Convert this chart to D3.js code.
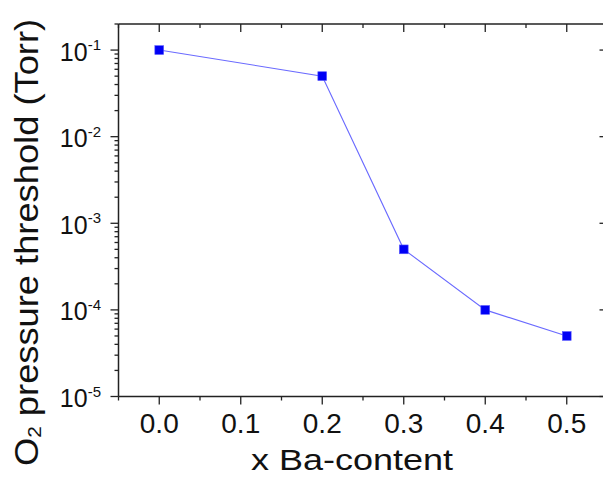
<!DOCTYPE html>
<html>
<head>
<meta charset="utf-8">
<script src="https://cdn.jsdelivr.net/npm/d3@7"></script>
<style>
  body { margin: 0; background: #fff; }
  text { font-family: "Liberation Sans", Arial, sans-serif; fill: #111; }
</style>
</head>
<body>
<svg id="chart" width="603" height="477"></svg>
<script>
/* global d3 */

let baContent = [0.0, 0.2, 0.3, 0.4, 0.5]
let o2Threshold = [1e-1, 5e-2, 5e-4, 1e-4, 5e-5]
let xTicks = [0.0, 0.1, 0.2, 0.3, 0.4, 0.5]
let yExponents = [-1, -2, -3, -4, -5]

function makeChart() {
  let svg = d3.select('#chart');

  let x = d3.scaleLinear().domain([-0.05, 0.55]).range([118.5, 607.5]);
  let y = d3.scaleLog().domain([1e-5, 0.2]).range([396.5, 24]);

  let ink = '#222';

  // frame
  svg.append('line').attr('x1', x(-0.05)).attr('x2', x(0.55)).attr('y1', y(1e-5)).attr('y2', y(1e-5))
    .attr('stroke', ink).attr('stroke-width', 1.5);
  svg.append('line').attr('x1', x(-0.05)).attr('x2', x(0.55)).attr('y1', y(0.2)).attr('y2', y(0.2))
    .attr('stroke', ink).attr('stroke-width', 1.5);
  svg.append('line').attr('x1', x(-0.05)).attr('x2', x(-0.05)).attr('y1', y(1e-5)).attr('y2', y(0.2))
    .attr('stroke', ink).attr('stroke-width', 1.5);
  svg.append('line').attr('x1', x(0.55)).attr('x2', x(0.55)).attr('y1', y(1e-5)).attr('y2', y(0.2))
    .attr('stroke', ink).attr('stroke-width', 1.5);

  // x ticks (bottom outward, top inward)
  let xMinor = d3.range(-0.05, 0.56, 0.05).map((v) => +v.toFixed(2));
  xMinor.forEach((v) => {
    let major = Math.abs(Math.round(v * 10) - v * 10) < 1e-6;
    let len = major ? 8 : 4;
    svg.append('line').attr('x1', x(v)).attr('x2', x(v))
      .attr('y1', y(1e-5)).attr('y2', y(1e-5) + len)
      .attr('stroke', ink).attr('stroke-width', 1.3);
    svg.append('line').attr('x1', x(v)).attr('x2', x(v))
      .attr('y1', y(0.2)).attr('y2', y(0.2) + len)
      .attr('stroke', ink).attr('stroke-width', 1.3);
  });

  svg.selectAll('.xlab').data(xTicks).enter().append('text')
    .attr('class', 'xlab')
    .attr('x', (d) => x(d))
    .attr('y', 432.5)
    .attr('text-anchor', 'middle')
    .attr('font-size', 28)
    .text((d) => d.toFixed(1));

  // y ticks (left outward with minors, right inward majors)
  for (let e = -5; e <= -1; e += 1) {
    for (let m = 1; m <= 9; m += 1) {
      let v = m * Math.pow(10, e);
      if (v > 0.2) continue;
      let len = m === 1 ? 8 : 4;
      svg.append('line').attr('x1', x(-0.05) - len).attr('x2', x(-0.05))
        .attr('y1', y(v)).attr('y2', y(v))
        .attr('stroke', ink).attr('stroke-width', 1.3);
    }
    svg.append('line').attr('x1', x(0.55) - 8).attr('x2', x(0.55))
      .attr('y1', y(Math.pow(10, e))).attr('y2', y(Math.pow(10, e)))
      .attr('stroke', ink).attr('stroke-width', 1.3);
  }

  let ylab = svg.selectAll('.ylab').data(yExponents).enter().append('text')
    .attr('class', 'ylab')
    .attr('x', 101)
    .attr('y', (d) => y(Math.pow(10, d)) + 10.5)
    .attr('text-anchor', 'end')
    .attr('font-size', 25);
  ylab.append('tspan').text('10');
  ylab.append('tspan').attr('font-size', 15).attr('dy', -10.5).text((d) => d);

  // line + markers
  let pts = baContent.map((v, i) => [v, o2Threshold[i]]);
  svg.append('path')
    .datum(pts)
    .attr('fill', 'none')
    .attr('stroke', '#6a6aff')
    .attr('stroke-width', 1.1)
    .attr('d', d3.line().x((d) => x(d[0])).y((d) => y(d[1])));

  svg.selectAll('rect.pt').data(pts).enter().append('rect')
    .attr('class', 'pt')
    .attr('x', (d) => x(d[0]) - 4.4)
    .attr('y', (d) => y(d[1]) - 4.4)
    .attr('width', 8.8)
    .attr('height', 8.8)
    .attr('fill', '#0000f5')
    .attr('stroke', '#5a5aff')
    .attr('stroke-width', 0.6);

  // axis titles (the original type is a bit wider than it is tall)
  svg.append('text')
    .attr('transform', 'translate(352,470) scale(1.2,1)')
    .attr('text-anchor', 'middle')
    .attr('font-size', 30)
    .text('x Ba-content');

  let yt = svg.append('text')
    .attr('transform', 'translate(38,242.5) rotate(-90) scale(1.1,1)')
    .attr('text-anchor', 'middle')
    .attr('font-size', 33);
  yt.append('tspan').text('O');
  yt.append('tspan').attr('font-size', 19).attr('dy', 3).text('2');
  yt.append('tspan').attr('dy', -3).text(' pressure threshold (Torr)');
}

makeChart();
</script>
</body>
</html>
